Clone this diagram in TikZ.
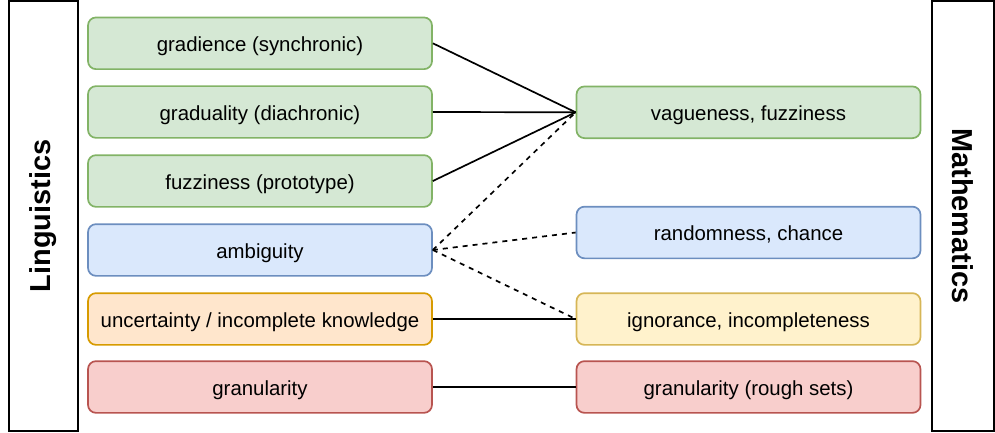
\documentclass[tikz,border=0pt]{standalone}
\usepackage{fontspec}
\setmainfont{Liberation Sans}
\usetikzlibrary{positioning}
\definecolor{greenfill}{HTML}{D5E8D4}\definecolor{greenline}{HTML}{82B366}
\definecolor{bluefill}{HTML}{DAE8FC}\definecolor{blueline}{HTML}{6C8EBF}
\definecolor{orangefill}{HTML}{FFE6CC}\definecolor{orangeline}{HTML}{D79B00}
\definecolor{yellowfill}{HTML}{FFF2CC}\definecolor{yellowline}{HTML}{D6B656}
\definecolor{redfill}{HTML}{F8CECC}\definecolor{redline}{HTML}{B85450}
\tikzset{
  term/.style={draw, line width=1.7pt, rounded corners=8pt, minimum width=344pt,
    minimum height=51.7pt, inner sep=0pt, text height=20.5pt, text depth=3.7pt,
    font=\fontsize{20.4}{24}\selectfont},
  green/.style={term, fill=greenfill, draw=greenline},
  blue/.style={term, fill=bluefill, draw=blueline},
  orange/.style={term, fill=orangefill, draw=orangeline},
  yellow/.style={term, fill=yellowfill, draw=yellowline},
  red/.style={term, fill=redfill, draw=redline},
  field/.style={draw, line width=1.7pt, minimum width=69pt, minimum height=430pt,
    inner sep=0pt},
  fieldname/.style={font=\fontsize{28.9}{34}\selectfont\bfseries},
  link/.style={line width=1.7pt},
  maybe/.style={link, dash pattern=on 5pt off 5pt}
}

\begin{document}
\begin{tikzpicture}[x=1pt, y=-1pt]
\useasboundingbox (0,0) rectangle (995,433);
% the two fields
\node[field] (ling) at (43.2,216) {};
\node[fieldname, rotate=90] (lingtext) at (ling.center) {Linguistics};
\node[field, minimum width=62pt] (math) at (963,216) {};
\node[fieldname, rotate=-90] (mathtext) at (math.center) {Mathematics};
% linguistic notions
\node[green] (gradience) at (260,43.3) {gradience (synchronic)};
\node[green] (graduality) at (260,112) {graduality (diachronic)};
\node[green] (prototype) at (260,181) {fuzziness (prototype)};
\node[blue] (ambiguity) at (260,250) {ambiguity};
\node[orange] (uncertainty) at (260,319) {uncertainty / incomplete knowledge};
\node[red] (granularity) at (260,387) {granularity};
% mathematical notions
\node[green] (vagueness) at (748.5,112.3) {vagueness, fuzziness};
\node[blue] (randomness) at (748.5,232.5) {randomness, chance};
\node[yellow] (ignorance) at (748.5,319) {ignorance, incompleteness};
\node[red] (roughsets) at (748.5,387) {granularity (rough sets)};
% links
\draw[link] (gradience.east) -- (vagueness.west);
\draw[link] (graduality.east) -- (vagueness.west);
\draw[link] (prototype.east) -- (vagueness.west);
\draw[maybe] (ambiguity.east) -- (vagueness.west);
\draw[maybe] (ambiguity.east) -- (randomness.west);
\draw[maybe] (ambiguity.east) -- (ignorance.west);
\draw[link] (uncertainty.east) -- (ignorance.west);
\draw[link] (granularity.east) -- (roughsets.west);
\end{tikzpicture}
\end{document}
